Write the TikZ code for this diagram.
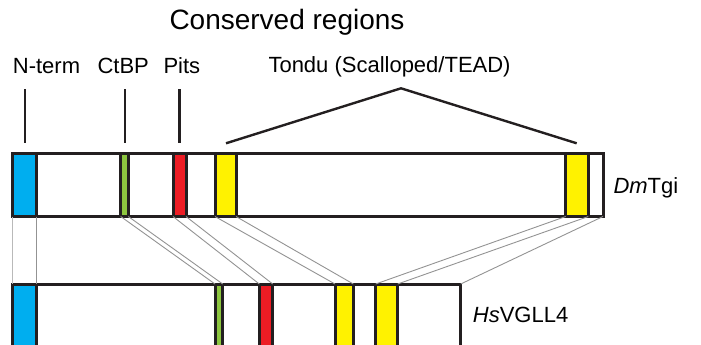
\documentclass[tikz,border=0pt]{standalone}
\usepackage{fontspec}
\setmainfont{Liberation Sans}
\definecolor{cblue}{HTML}{00AEEF}
\definecolor{cgreen}{HTML}{8DC63F}
\definecolor{cred}{HTML}{ED1C24}
\definecolor{cyel}{HTML}{FFF200}
\definecolor{outl}{HTML}{231F20}
\begin{document}
\begin{tikzpicture}[x=1pt,y=-1pt,
  bar/.style={draw=outl,line width=3pt,fill=white,inner sep=0pt,outer sep=0pt,minimum height=63pt,anchor=north west},
  band/.style={draw=outl,line width=3pt,inner sep=0pt,outer sep=0pt,minimum height=63pt,anchor=north west},
  link/.style={draw=gray!85,line width=0.9pt},
  tick/.style={draw=outl,line width=2.4pt},
  lab/.style={inner sep=0pt,anchor=base west,font=\fontsize{22}{26}\selectfont}]
\useasboundingbox (0,0) rectangle (701,345);
\clip (0,0) rectangle (701,345);
% labels
\node[inner sep=0pt,anchor=base west,font=\fontsize{28}{32}\selectfont] (title) at (169.3,30) {Conserved regions};
\node[lab] (nterm) at (12.7,73.3) {N-term};
\node[lab] (ctbp) at (97.3,73.3) {CtBP};
\node[lab] (pits) at (163.3,73.3) {Pits};
\node[lab] (tondu) at (268.3,72.7) {Tondu (Scalloped/TEAD)};
\node[lab] (dm) at (613.3,193.3) {\textit{Dm}Tgi};
\node[lab] (hs) at (472.7,322.7) {\textit{Hs}VGLL4};
% ticks and bracket
\coordinate (n1) at (25,89.3); \coordinate (n2) at (25,143.3);
\coordinate (c1) at (125,89.3); \coordinate (c2) at (125,143.3);
\coordinate (p1) at (179.3,89.3); \coordinate (p2) at (179.3,143.3);
\coordinate (tl) at (226,143.3); \coordinate (ta) at (401,88.3); \coordinate (tr) at (576.7,143.3);
\draw[tick] (n1) -- (n2);
\draw[tick] (c1) -- (c2);
\draw[tick] (p1) -- (p2);
\draw[tick,line join=miter] (tl) -- (ta) -- (tr);
% top bar
\node[bar,minimum width=591pt] (tb) at (12,153.5) {};
\node[band,fill=cblue,minimum width=24pt] (tblue) at (12,153.5) {};
\node[band,fill=cgreen,minimum width=7.6pt] (tgreen) at (120.7,153.5) {};
\node[band,fill=cred,minimum width=13pt] (tred) at (173,153.5) {};
\node[band,fill=cyel,minimum width=21pt] (tyel1) at (215,153.5) {};
\node[band,fill=cyel,minimum width=22.6pt] (tyel2) at (565.7,153.5) {};
% bottom bar
\node[bar,minimum width=448.7pt] (bb) at (12,284) {};
\node[band,fill=cblue,minimum width=24pt] (bblue) at (12,284) {};
\node[band,fill=cgreen,minimum width=7.7pt] (bgreen) at (215,284) {};
\node[band,fill=cred,minimum width=13.4pt] (bred) at (259.3,284) {};
\node[band,fill=cyel,minimum width=18.3pt] (byel1) at (335,284) {};
\node[band,fill=cyel,minimum width=22pt] (byel2) at (375.7,284) {};
% links
\draw[link,draw=gray!55] (tblue.south west) -- (bblue.north west);
\draw[link] (tblue.south east) -- (bblue.north east);
\draw[link] (tgreen.south west) -- (bgreen.north west);
\draw[link] (tgreen.south east) -- (bgreen.north east);
\draw[link] (tred.south west) -- (bred.north west);
\draw[link] (tred.south east) -- (bred.north east);
\draw[link] (tyel1.south west) -- (byel1.north west);
\draw[link] (tyel1.south east) -- (byel1.north east);
\draw[link] (tyel2.south west) -- (byel2.north west);
\draw[link] (tyel2.south east) -- (byel2.north east);
\draw[link] (tb.south east) -- (bb.north east);
\end{tikzpicture}
\end{document}
